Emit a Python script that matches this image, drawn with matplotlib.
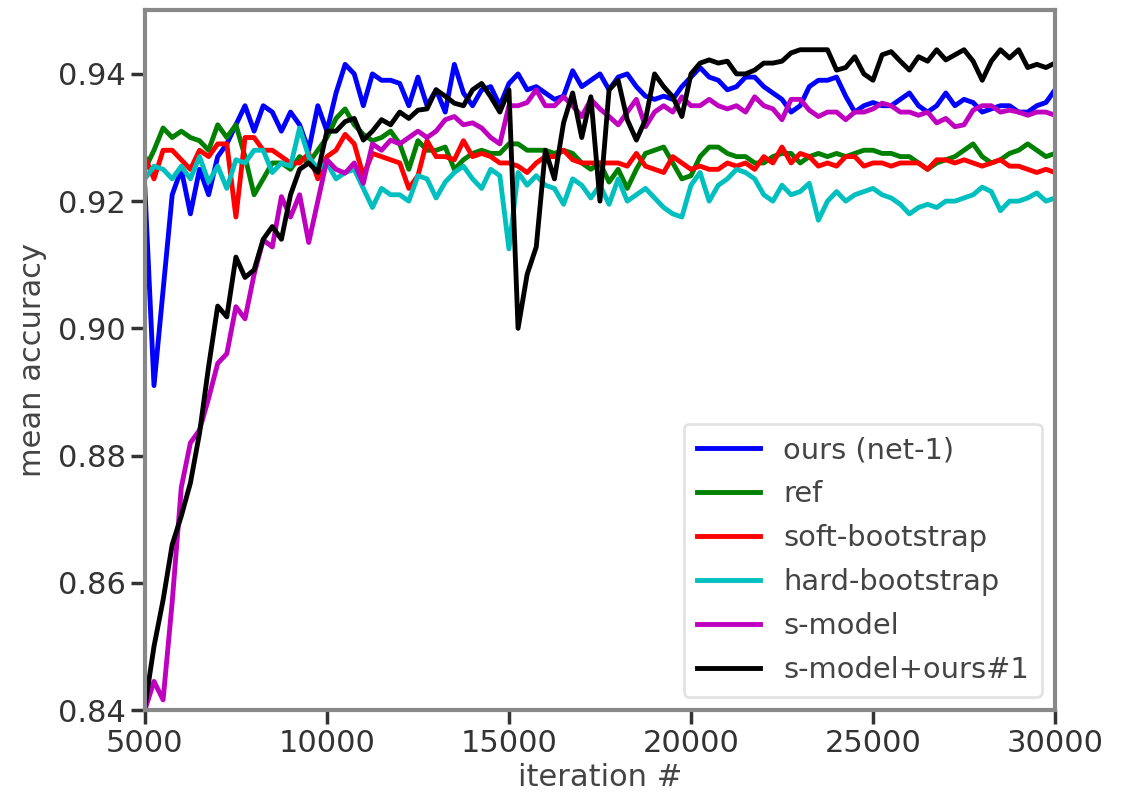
import numpy as np
import matplotlib
matplotlib.use("Agg")
import matplotlib.pyplot as plt

iterations = np.arange(5000, 30001, 250)

ours_net1 = [
    0.922, 0.891, 0.906, 0.921, 0.925, 0.918, 0.925, 0.921, 0.927, 0.929,
    0.932, 0.935, 0.931, 0.935, 0.934, 0.931, 0.934, 0.932, 0.928, 0.935,
    0.931, 0.937, 0.9415, 0.940, 0.935, 0.940, 0.939, 0.939, 0.9385, 0.935,
    0.9395, 0.935, 0.9375, 0.934, 0.9415, 0.937, 0.935, 0.9375, 0.938, 0.935,
    0.9385, 0.940, 0.9375, 0.938, 0.937, 0.936, 0.9365, 0.9405, 0.938, 0.939,
    0.940, 0.9375, 0.9395, 0.940, 0.938, 0.9365, 0.936, 0.9365, 0.936, 0.938,
    0.9395, 0.941, 0.9395, 0.939, 0.9375, 0.938, 0.9395, 0.9395, 0.938, 0.937,
    0.936, 0.934, 0.935, 0.938, 0.939, 0.939, 0.9395, 0.9365, 0.934, 0.935,
    0.9355, 0.935, 0.935, 0.936, 0.937, 0.935, 0.934, 0.935, 0.937, 0.935,
    0.936, 0.9355, 0.934, 0.9345, 0.935, 0.935, 0.934, 0.934, 0.935, 0.9355,
    0.9375,
]

ref = [
    0.925, 0.928, 0.9315, 0.930, 0.931, 0.930, 0.9295, 0.928, 0.932, 0.930,
    0.932, 0.927, 0.921, 0.9235, 0.926, 0.926, 0.925, 0.927, 0.926, 0.928,
    0.930, 0.933, 0.9345, 0.932, 0.9305, 0.9295, 0.930, 0.931, 0.929, 0.925,
    0.9295, 0.928, 0.928, 0.9285, 0.925, 0.9265, 0.9275, 0.928, 0.9275, 0.9275,
    0.929, 0.929, 0.928, 0.928, 0.928, 0.9275, 0.928, 0.9275, 0.926, 0.925,
    0.926, 0.923, 0.925, 0.922, 0.925, 0.9275, 0.928, 0.9285, 0.926, 0.9235,
    0.924, 0.927, 0.9285, 0.9285, 0.9275, 0.927, 0.927, 0.926, 0.926, 0.927,
    0.9275, 0.9275, 0.926, 0.927, 0.9275, 0.927, 0.9275, 0.927, 0.9275, 0.928,
    0.928, 0.9275, 0.9275, 0.927, 0.927, 0.926, 0.925, 0.926, 0.9265, 0.927,
    0.928, 0.929, 0.927, 0.926, 0.9265, 0.9275, 0.928, 0.929, 0.928, 0.927,
    0.9275,
]

soft_bootstrap = [
    0.927, 0.9235, 0.928, 0.928, 0.9265, 0.925, 0.928, 0.927, 0.929, 0.929,
    0.9175, 0.930, 0.930, 0.928, 0.928, 0.927, 0.926, 0.926, 0.9275, 0.9235,
    0.927, 0.928, 0.9305, 0.929, 0.924, 0.9275, 0.927, 0.9265, 0.926, 0.922,
    0.924, 0.9295, 0.927, 0.927, 0.9265, 0.9295, 0.927, 0.9275, 0.927, 0.926,
    0.926, 0.9255, 0.9245, 0.926, 0.927, 0.927, 0.928, 0.9265, 0.926, 0.926,
    0.926, 0.926, 0.926, 0.9255, 0.9275, 0.9255, 0.925, 0.9245, 0.927, 0.926,
    0.925, 0.9255, 0.925, 0.925, 0.926, 0.9255, 0.926, 0.925, 0.927, 0.926,
    0.9285, 0.926, 0.9275, 0.927, 0.9255, 0.926, 0.9255, 0.927, 0.927, 0.9255,
    0.926, 0.926, 0.9255, 0.926, 0.926, 0.926, 0.925, 0.9265, 0.9265, 0.926,
    0.9265, 0.926, 0.9255, 0.926, 0.9265, 0.9255, 0.9255, 0.925, 0.9245, 0.925,
    0.9245,
]

hard_bootstrap = [
    0.9235, 0.9255, 0.925, 0.9235, 0.9255, 0.9235, 0.927, 0.923, 0.9255, 0.922,
    0.9265, 0.926, 0.928, 0.928, 0.9245, 0.926, 0.9255, 0.9315, 0.927, 0.925,
    0.926, 0.9235, 0.9245, 0.925, 0.922, 0.919, 0.922, 0.921, 0.921, 0.920,
    0.924, 0.9235, 0.9205, 0.923, 0.9245, 0.9255, 0.9235, 0.922, 0.925, 0.924,
    0.9125, 0.9245, 0.9225, 0.924, 0.9225, 0.922, 0.9195, 0.9235, 0.9225, 0.9205,
    0.9225, 0.9195, 0.9235, 0.920, 0.921, 0.922, 0.9205, 0.919, 0.918, 0.9175,
    0.9225, 0.9245, 0.920, 0.9225, 0.9235, 0.925, 0.9245, 0.9235, 0.921, 0.920,
    0.9225, 0.921, 0.9215, 0.9228, 0.917, 0.920, 0.9215, 0.920, 0.921, 0.9215,
    0.922, 0.921, 0.9205, 0.9195, 0.918, 0.919, 0.9195, 0.919, 0.920, 0.920,
    0.9205, 0.921, 0.9222, 0.9215, 0.9185, 0.920, 0.920, 0.9205, 0.9213, 0.920,
    0.9205,
]

s_model = [
    0.840, 0.8445, 0.8416, 0.857, 0.875, 0.882, 0.884, 0.889, 0.8945, 0.896,
    0.9034, 0.9015, 0.9085, 0.9139, 0.9128, 0.9207, 0.9175, 0.921, 0.9135, 0.920,
    0.9265, 0.925, 0.9244, 0.926, 0.9228, 0.929, 0.928, 0.9296, 0.929, 0.930,
    0.931, 0.930, 0.931, 0.9328, 0.9333, 0.932, 0.9323, 0.9315, 0.930, 0.929,
    0.935, 0.935, 0.9355, 0.9375, 0.935, 0.935, 0.9364, 0.935, 0.9333, 0.936,
    0.9345, 0.9333, 0.932, 0.934, 0.936, 0.9317, 0.934, 0.935, 0.934, 0.9364,
    0.935, 0.935, 0.936, 0.935, 0.9345, 0.935, 0.934, 0.9364, 0.935, 0.9345,
    0.9328, 0.936, 0.936, 0.9343, 0.9333, 0.934, 0.934, 0.9328, 0.934, 0.934,
    0.9345, 0.9354, 0.935, 0.934, 0.934, 0.9335, 0.934, 0.9323, 0.933, 0.9317,
    0.932, 0.9343, 0.935, 0.935, 0.934, 0.9343, 0.934, 0.9335, 0.934, 0.934,
    0.9335,
]

s_model_ours1 = [
    0.8405, 0.850, 0.8573, 0.866, 0.8705, 0.8757, 0.8835, 0.894, 0.9035, 0.9018,
    0.9112, 0.908, 0.9092, 0.914, 0.916, 0.914, 0.921, 0.925, 0.926, 0.9245,
    0.931, 0.931, 0.9325, 0.933, 0.9296, 0.931, 0.9328, 0.932, 0.934, 0.933,
    0.9343, 0.9345, 0.9375, 0.9365, 0.9354, 0.935, 0.9375, 0.9385, 0.9364, 0.934,
    0.9375, 0.900, 0.9085, 0.9128, 0.928, 0.9235, 0.9323, 0.937, 0.930, 0.9364,
    0.920, 0.9375, 0.939, 0.9328, 0.9296, 0.9328, 0.940, 0.938, 0.9364, 0.9333,
    0.940, 0.9417, 0.9422, 0.9417, 0.942, 0.940, 0.940, 0.9406, 0.9417, 0.9417,
    0.942, 0.9433, 0.9438, 0.9438, 0.9438, 0.9438, 0.9406, 0.941, 0.9427, 0.940,
    0.939, 0.943, 0.9435, 0.942, 0.9406, 0.9427, 0.942, 0.9438, 0.9422, 0.943,
    0.9438, 0.942, 0.939, 0.942, 0.9438, 0.9425, 0.9438, 0.941, 0.9415, 0.941,
    0.9417,
]

labels = ["ours (net-1)", "ref", "soft-bootstrap", "hard-bootstrap", "s-model", "s-model+ours#1"]
colors = ["b", "g", "r", "c", "m", "k"]
series = [ours_net1, ref, soft_bootstrap, hard_bootstrap, s_model, s_model_ours1]

plt.rcParams["font.family"] = ["DejaVu Sans"]
fig = plt.figure(figsize=(11.32, 7.92), dpi=100)
ax = fig.add_axes([0.128, 0.1035, 0.804, 0.8835])

for vals, lab, col in zip(series, labels, colors):
    ax.plot(iterations, vals, color=col, lw=3.5, label=lab)

ax.set_xlim(5000, 30000)
ax.set_ylim(0.84, 0.95)
ax.set_xticks([5000, 10000, 15000, 20000, 25000, 30000])
ax.set_yticks([0.84, 0.86, 0.88, 0.90, 0.92, 0.94])
ax.set_yticklabels(["0.84", "0.86", "0.88", "0.90", "0.92", "0.94"])
ax.tick_params(labelsize=22, length=10, width=2.5, color="#333333", labelcolor="#333333")
ax.set_xlabel("iteration #", fontsize=22, color="#444444", labelpad=4)
ax.set_ylabel("mean accuracy", fontsize=22, color="#444444", labelpad=8)
for s in ax.spines.values():
    s.set_color("#888888")
    s.set_linewidth(3)

leg = ax.legend(loc="lower right", fontsize=20.8, handlelength=2.2, frameon=True,
                borderpad=0.45, labelspacing=0.55, handletextpad=0.8, fancybox=True,
                borderaxespad=0.45)
leg.get_frame().set_edgecolor("#dddddd")
leg.get_frame().set_linewidth(2)
for t in leg.get_texts():
    t.set_color("#444444")

fig.savefig("out.png", dpi=100)
